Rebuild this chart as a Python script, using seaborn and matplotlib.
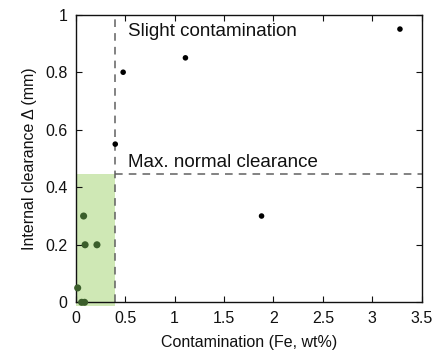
import matplotlib
matplotlib.use("Agg")
import matplotlib.pyplot as plt
import seaborn as sns
import pandas as pd

# Data
fe_black = [3.28, 1.11, 0.48, 0.40, 1.88]
cl_black = [0.95, 0.85, 0.80, 0.55, 0.30]
fe_green = [0.08, 0.095, 0.215, 0.02, 0.06, 0.09]
cl_green = [0.30, 0.20, 0.20, 0.05, 0.0, 0.0]
fe_limit = 0.40
cl_limit = 0.445
xticks = [0, 0.5, 1, 1.5, 2, 2.5, 3, 3.5]
xtick_labels = ["0", "0.5", "1", "1.5", "2", "2.5", "3", "3.5"]
yticks = [0, 0.2, 0.4, 0.6, 0.8, 1.0]
ytick_labels = ["0", "0.2", "0.4", "0.6", "0.8", "1"]

sns.set_theme(style="ticks")
plt.rcParams['font.family'] = ['Liberation Sans', 'DejaVu Sans']

fig = plt.figure(figsize=(4.39, 3.51), dpi=100)
ax = fig.add_axes([75.7/439, 1 - 302.3/351, (421.7-75.7)/439, (302.3-14.7)/351])

ax.fill_between([0, fe_limit], [-0.013, -0.013], [cl_limit, cl_limit],
                color="#cfe8b5", lw=0, zorder=0, clip_on=False)
ax.axvline(fe_limit, color="#606060", ls=(0, (5, 4)), lw=1.1, zorder=1)
ax.plot([fe_limit, 3.5], [cl_limit, cl_limit], color="#606060", ls=(0, (5, 4)), lw=1.1, zorder=1)

dfb = pd.DataFrame({"fe": fe_black, "cl": cl_black})
dfg = pd.DataFrame({"fe": fe_green, "cl": cl_green})
sns.scatterplot(data=dfb, x="fe", y="cl", ax=ax, color="black", s=16, edgecolor="none", zorder=3, clip_on=False)
sns.scatterplot(data=dfg, x="fe", y="cl", ax=ax, color="#3b5e2b", s=26, edgecolor="none", zorder=3, clip_on=False)

ax.text(0.53, 0.94, "Slight contamination", fontsize=13.5, va="center", ha="left", color="#111111")
ax.text(0.53, 0.487, "Max. normal clearance", fontsize=13.5, va="center", ha="left", color="#111111")

ax.set_xlim(0, 3.5)
ax.set_ylim(0, 1)
ax.set_xticks(xticks)
ax.set_xticklabels(xtick_labels)
ax.set_yticks(yticks)
ax.set_yticklabels(ytick_labels)
ax.tick_params(direction="in", top=True, right=True, labelsize=11.5, length=4, width=0.8, colors="#111111", pad=6)
ax.set_xlabel("Contamination (Fe, wt%)", fontsize=11.5, color="#111111", labelpad=7)
ax.set_ylabel("Internal clearance \u0394 (mm)", fontsize=11.5, color="#111111", labelpad=6)
for sp in ax.spines.values():
    sp.set_color("#111111")
    sp.set_linewidth(1.0)

fig.savefig("out.png", dpi=100)
